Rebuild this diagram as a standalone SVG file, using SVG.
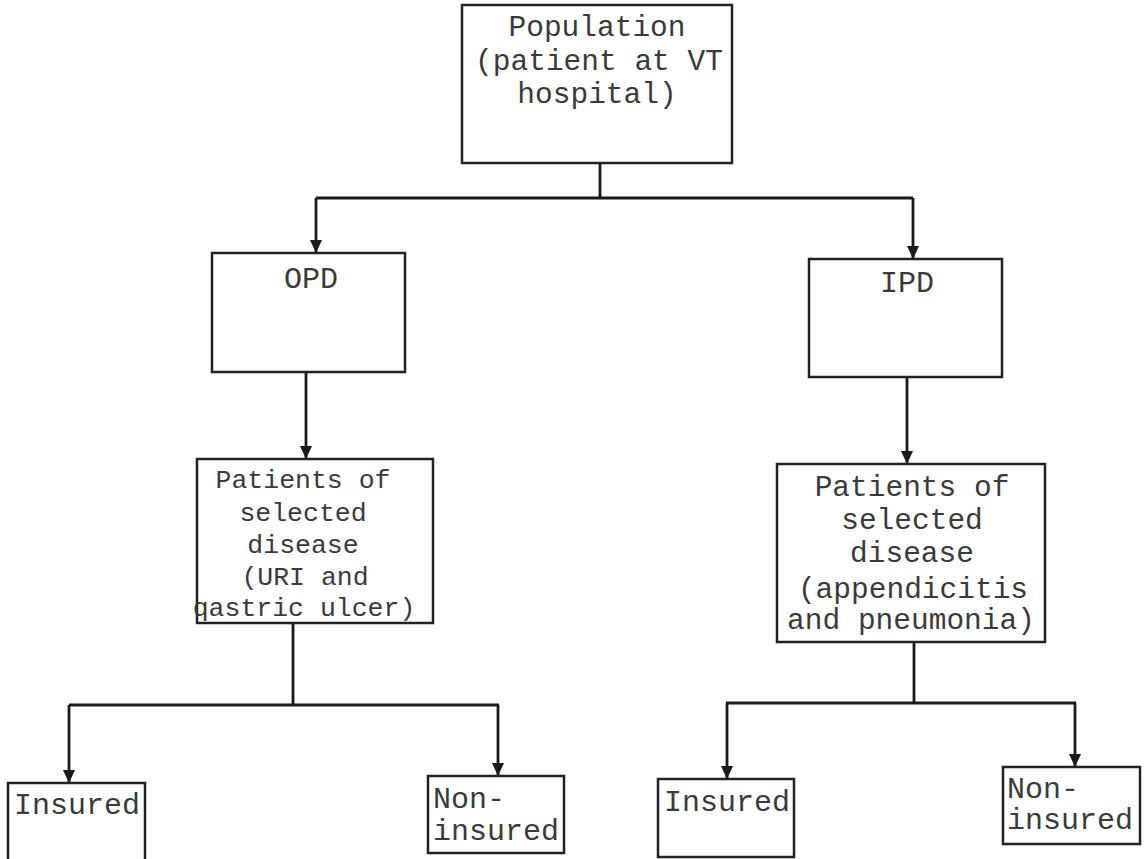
<svg xmlns="http://www.w3.org/2000/svg" width="1148" height="859" viewBox="0 0 1148 859">
<style>
.box{fill:#fff;stroke:#222;stroke-width:2.5}
.t{font-family:"Liberation Mono","Courier New",monospace;fill:#3a3a3a}
.c{text-anchor:middle}
.ln{fill:none;stroke:#1a1a1a;stroke-width:2.8}
</style>
<defs>
<marker id="ah" markerUnits="userSpaceOnUse" markerWidth="14" markerHeight="14" viewBox="0 0 14 14" refX="13" refY="7" orient="auto">
<path d="M0,1 L13,7 L0,13 Z" fill="#1a1a1a"/>
</marker>
</defs>
<rect width="1148" height="859" fill="#fff"/>
<g id="connectors">
<path class="ln" d="M600,163 V198 M316,198 H913"/>
<path class="ln" d="M316,198 V253" marker-end="url(#ah)"/>
<path class="ln" d="M913,198 V259" marker-end="url(#ah)"/>
<path class="ln" d="M306,372 V459" marker-end="url(#ah)"/>
<path class="ln" d="M907,377 V464" marker-end="url(#ah)"/>
<path class="ln" d="M293,623 V705 M69,705 H499"/>
<path class="ln" d="M69,705 V783" marker-end="url(#ah)"/>
<path class="ln" d="M498,705 V776" marker-end="url(#ah)"/>
<path class="ln" d="M914,642 V703 M726,703 H1076"/>
<path class="ln" d="M727,703 V779" marker-end="url(#ah)"/>
<path class="ln" d="M1075,703 V767" marker-end="url(#ah)"/>
</g>
<g id="population">
<rect class="box" x="462" y="5" width="270" height="158"/>
<text class="t c" font-size="29.5" x="597" y="36">Population</text>
<text class="t c" font-size="29.5" x="599" y="70">(patient at VT</text>
<text class="t c" font-size="29.5" x="597" y="103">hospital)</text>
</g>
<g id="opd">
<rect class="box" x="212" y="253" width="193" height="119"/>
<text class="t c" font-size="30" x="311" y="288">OPD</text>
</g>
<g id="ipd">
<rect class="box" x="809" y="259" width="193" height="118"/>
<text class="t c" font-size="30" x="907" y="292">IPD</text>
</g>
<g id="opd-disease">
<rect class="box" x="197" y="459" width="236" height="164"/>
<text class="t c" font-size="26.5" x="303" y="488">Patients of</text>
<text class="t c" font-size="26.5" x="303" y="521">selected</text>
<text class="t c" font-size="26.5" x="303" y="553">disease</text>
<text class="t c" font-size="26.5" x="305" y="585">(URI and</text>
<text class="t c" font-size="26.5" x="304" y="616">qastric ulcer)</text>
</g>
<g id="ipd-disease">
<rect class="box" x="777" y="464" width="268" height="178"/>
<text class="t c" font-size="29.5" x="912" y="496">Patients of</text>
<text class="t c" font-size="29.5" x="912" y="529">selected</text>
<text class="t c" font-size="29.5" x="912" y="562">disease</text>
<text class="t c" font-size="29.5" x="913" y="598">(appendicitis</text>
<text class="t c" font-size="29.5" x="911" y="629">and pneumonia)</text>
</g>
<g id="opd-insured">
<rect class="box" x="8" y="783" width="137" height="90"/>
<text class="t" font-size="30" x="14" y="814">Insured</text>
</g>
<g id="opd-noninsured">
<rect class="box" x="428" y="776" width="136" height="77"/>
<text class="t" font-size="30" x="433" y="808">Non-</text>
<text class="t" font-size="30" x="433" y="840">insured</text>
</g>
<g id="ipd-insured">
<rect class="box" x="658" y="779" width="136" height="78"/>
<text class="t" font-size="30" x="664" y="811">Insured</text>
</g>
<g id="ipd-noninsured">
<rect class="box" x="1003" y="767" width="137" height="77"/>
<text class="t" font-size="30" x="1007" y="798">Non-</text>
<text class="t" font-size="30" x="1007" y="829">insured</text>
</g>
</svg>
